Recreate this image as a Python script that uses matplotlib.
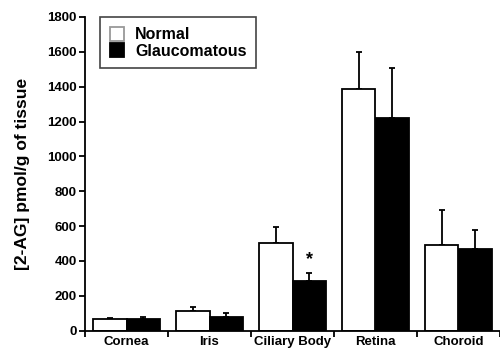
import numpy as np
import matplotlib
matplotlib.use('Agg')
import matplotlib.pyplot as plt

plt.rcParams['font.family'] = ['Liberation Sans', 'DejaVu Sans']
plt.rcParams['font.weight'] = 'bold'

# data
tissues = ['Cornea', 'Iris', 'Ciliary Body', 'Retina', 'Choroid']
normal = [67, 115, 504, 1386, 489]
normal_err = [8, 23, 90, 211, 205]
glauc = [65, 77, 287, 1223, 470]
glauc_err = [15, 23, 45, 282, 109]
yticks = [0, 200, 400, 600, 800, 1000, 1200, 1400, 1600, 1800]


def main():
    fig = plt.figure(figsize=(5, 3.54), dpi=100)
    ax = fig.add_axes([0.17, 0.066, 0.83, 0.886])

    x = np.arange(len(tissues))
    width = 0.4
    ekw = dict(ecolor='black', elinewidth=1.3, capsize=2.5, capthick=1.3)
    ax.bar(x - width/2, normal, width, color='white', edgecolor='black',
           linewidth=1.3, label='Normal', zorder=2)
    ax.errorbar(x - width/2, normal, yerr=[np.zeros(len(x)), normal_err],
                fmt='none', zorder=1, **ekw)
    ax.bar(x + width/2, glauc, width, color='black', edgecolor='black',
           linewidth=1.3, label='Glaucomatous', zorder=2)
    ax.errorbar(x + width/2, glauc, yerr=[np.zeros(len(x)), glauc_err],
                fmt='none', zorder=1, **ekw)

    # significance marker on ciliary body
    ax.text(x[2] + width/2, glauc[2] + glauc_err[2] + 25, '*',
            ha='center', va='bottom', fontsize=13)

    ax.set_xlim(-0.5, len(tissues) - 0.5)
    ax.set_ylim(0, 1800)
    ax.set_yticks(yticks)
    ax.set_xticks(x)
    ax.set_xticklabels(tissues, fontsize=9.5)
    ax.tick_params(axis='x', length=0, pad=4)
    ax.set_xticks(np.arange(len(tissues) + 1) - 0.5, minor=True)
    ax.tick_params(axis='x', which='minor', length=4, width=1.3)
    ax.tick_params(axis='y', labelsize=9.5, length=4, width=1.3, pad=2)
    ax.set_ylabel('[2-AG] pmol/g of tissue', fontsize=12.5, fontweight='bold',
                  labelpad=12)

    for s in ['top', 'right']:
        ax.spines[s].set_visible(False)
    for s in ['left', 'bottom']:
        ax.spines[s].set_linewidth(1.3)

    leg = ax.legend(loc='upper left', bbox_to_anchor=(0.036, 1.0), fontsize=11.5,
                    fancybox=False, edgecolor='#444444', framealpha=1,
                    handlelength=0.9, handleheight=1.0, borderpad=0.6,
                    labelspacing=0.05, handletextpad=0.7, borderaxespad=0)
    leg.get_frame().set_linewidth(1.2)
    leg.legend_handles[0].set_edgecolor('#999999')

    fig.savefig('out.png', dpi=100)


if __name__ == '__main__':
    main()
